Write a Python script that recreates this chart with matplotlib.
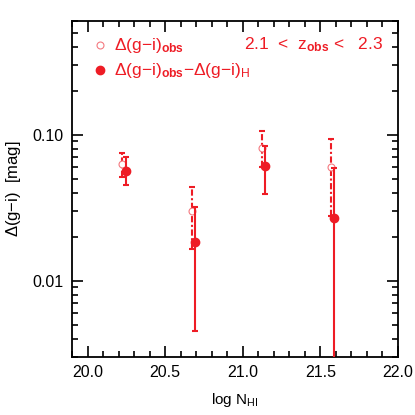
import matplotlib
matplotlib.use("Agg")
import matplotlib.pyplot as plt
from matplotlib.ticker import LogLocator, FixedLocator, NullFormatter, MultipleLocator

plt.rcParams['font.family'] = ['Liberation Sans', 'DejaVu Sans']
plt.rcParams['mathtext.fontset'] = 'custom'
plt.rcParams['mathtext.rm'] = 'Liberation Sans'
plt.rcParams['mathtext.it'] = 'Liberation Sans'
plt.rcParams['mathtext.bf'] = 'Liberation Sans:bold'
plt.rcParams['mathtext.default'] = 'regular'

# Data: Delta(g-i)_obs (open) and Delta(g-i)_obs - Delta(g-i)_H (filled)
nhi_obs = [20.222, 20.672, 21.122, 21.568]
dgi_obs = [0.063, 0.030, 0.081, 0.060]
dgi_obs_lo = [0.0515, 0.0166, 0.060, 0.0277]
dgi_obs_hi = [0.0745, 0.044, 0.106, 0.093]

nhi_cor = [20.247, 20.695, 21.141, 21.589]
dgi_cor = [0.0566, 0.0183, 0.061, 0.0269]
dgi_cor_lo = [0.0454, 0.00452, 0.039, 0.001]
dgi_cor_hi = [0.070, 0.032, 0.0835, 0.0593]

red = '#ee1c25'
light = '#f47a80'

fig = plt.figure(figsize=(4.15, 4.15), dpi=100)
ax = fig.add_axes([0.1735, 0.1398, 0.7855, 0.8092])

# open points, dash-dot error bars
err = [[v - l for v, l in zip(dgi_obs, dgi_obs_lo)], [h - v for v, h in zip(dgi_obs, dgi_obs_hi)]]
_, caps, bars = ax.errorbar(nhi_obs, dgi_obs, yerr=err, fmt='none', ecolor=red,
                            elinewidth=1.5, capsize=2.5, capthick=1.5)
for b in bars:
    b.set_linestyle((0, (3, 1.2, 1, 1.2)))
ax.plot(nhi_obs, dgi_obs, 'o', mfc='white', mec=light, ms=5, mew=0.8, zorder=4)

# filled points, solid error bars
err = [[v - l for v, l in zip(dgi_cor, dgi_cor_lo)], [h - v for v, h in zip(dgi_cor, dgi_cor_hi)]]
ax.errorbar(nhi_cor, dgi_cor, yerr=err, fmt='o', color=red, ms=6,
            elinewidth=1.5, capsize=2.5, capthick=1.5, zorder=5)

ax.set_xlim(19.9, 22.0)
ax.set_yscale('log')
ax.set_ylim(0.003, 0.6)

ax.xaxis.set_major_locator(MultipleLocator(0.5))
ax.xaxis.set_minor_locator(MultipleLocator(0.1))
ax.xaxis.set_major_formatter(plt.FuncFormatter(lambda v, p: f'{v:.1f}'))
ax.yaxis.set_major_locator(FixedLocator([0.01, 0.1]))
ax.yaxis.set_major_formatter(plt.FuncFormatter(lambda v, p: {0.01: '0.01', 0.1: '0.10'}.get(round(v, 3), '')))
ax.yaxis.set_minor_locator(LogLocator(base=10, subs=range(2, 10)))
ax.yaxis.set_minor_formatter(NullFormatter())

ax.tick_params(which='both', direction='in', top=True, right=True, labelsize=11.5, width=1.2, colors='black')
ax.tick_params(which='major', length=8, pad=6)
ax.tick_params(which='minor', length=4.5)
for s in ax.spines.values():
    s.set_linewidth(1.3)

ax.set_xlabel(r'log N$_{HI}$', fontsize=11, labelpad=8)
ax.set_ylabel(r'$\Delta$(g$-$i)  [mag]', fontsize=12, labelpad=7)

# legend drawn by hand
ax.plot([0.086], [0.929], 'o', transform=ax.transAxes, mfc='white', mec=light, ms=5, mew=0.8)
ax.text(0.13, 0.929, r'$\Delta$(g$-$i)$_{\mathbf{obs}}$', transform=ax.transAxes,
        color=red, fontsize=12.5, va='center')
ax.plot([0.086], [0.854], 'o', transform=ax.transAxes, color=red, ms=6)
ax.text(0.13, 0.854, r'$\Delta$(g$-$i)$_{\mathbf{obs}}$$-$$\Delta$(g$-$i)$_{H}$',
        transform=ax.transAxes, color=red, fontsize=12.5, va='center')
ax.text(0.955, 0.929, r'2.1  <  z$_{\mathbf{obs}}$ <   2.3', transform=ax.transAxes,
        color=red, fontsize=12.5, va='center', ha='right')

fig.savefig('out.png', dpi=100)
